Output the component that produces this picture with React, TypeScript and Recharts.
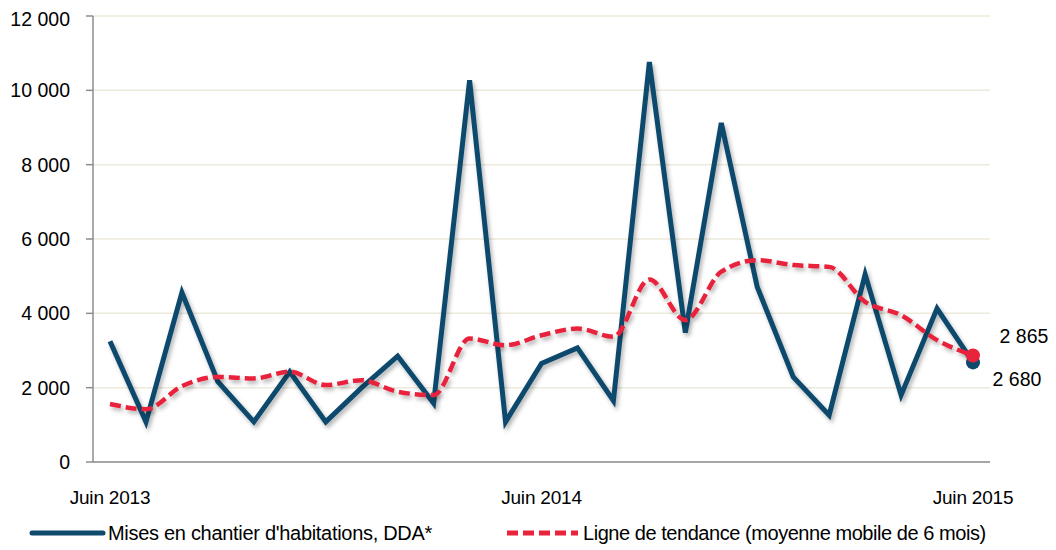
import React from "react";
import { LineChart, Line, XAxis, YAxis, CartesianGrid, Legend } from "recharts";

const months = ["Juin 2013","Juil. 2013","Août 2013","Sept. 2013","Oct. 2013","Nov. 2013","Déc. 2013","Janv. 2014","Févr. 2014","Mars 2014","Avr. 2014","Mai 2014","Juin 2014","Juil. 2014","Août 2014","Sept. 2014","Oct. 2014","Nov. 2014","Déc. 2014","Janv. 2015","Févr. 2015","Mars 2015","Avr. 2015","Mai 2015","Juin 2015"];
const mises = [3250,1080,4560,2160,1080,2430,1080,2000,2850,1580,10270,1080,2650,3070,1650,10760,3480,9120,4710,2290,1260,5050,1800,4130,2680];
const tendance = [1560,1420,2040,2290,2250,2430,2070,2200,1890,1800,3320,3140,3410,3590,3370,4910,3820,5120,5430,5300,5250,4310,3950,3280,2865];
const xTicks = ["Juin 2013","Juin 2014","Juin 2015"];
const yTicks = [0,2000,4000,6000,8000,10000,12000];

const data = months.map((m, i) => ({ month: m, mises: mises[i], tendance: tendance[i] }));

const BLUE = "#0E4A6C";
const RED = "#E8243C";
const FONT = "'Liberation Sans', Arial, sans-serif";

const fmt = (v: number) => String(v).replace(/\B(?=(\d{3})+(?!\d))/g, " ");

const lastIdx = months.length - 1;

const endDot = (color: string) => (props: any) => {
  const { cx, cy, index } = props;
  if (index !== lastIdx) return <g key={index} />;
  return <circle key={index} cx={cx} cy={cy} r={7} fill={color} />;
};

const endLabel = (dx: number, dy: number) => (props: any) => {
  const { x, y, index, value } = props;
  if (index !== lastIdx) return <g key={index} />;
  return (
    <text key={index} x={x + dx} y={y + dy} fill="#000" fontSize={19.5} fontFamily={FONT} textAnchor="middle" dominantBaseline="central">
      {fmt(value)}
    </text>
  );
};

const LegendContent = () => (
  <div style={{ position: "relative", height: 48, width: 1040, fontFamily: FONT, color: "#000" }}>
    <svg width={1040} height={48} style={{ position: "absolute", left: 0, top: 0, overflow: "visible" }}>
      <line x1={24} y1={31} x2={95} y2={31} stroke={BLUE} strokeWidth={5} strokeLinecap="round" />
      <line x1={499} y1={31} x2={570} y2={31} stroke={RED} strokeWidth={5} strokeDasharray="11 5" />
      <text x={100} y={31} dominantBaseline="central" fontSize={20} letterSpacing={-0.3} fontFamily={FONT}>Mises en chantier d'habitations, DDA*</text>
      <text x={575} y={31} dominantBaseline="central" fontSize={20} letterSpacing={-0.45} fontFamily={FONT}>Ligne de tendance (moyenne mobile de 6 mois)</text>
    </svg>
  </div>
);

export default function App() {
  return (
    <LineChart width={1040} height={542} data={data} margin={{ top: 8, right: 58, left: 0, bottom: 8 }}>
      <defs>
        <filter id="sh" x="-10%" y="-10%" width="120%" height="120%">
          <feDropShadow dx="2" dy="3" stdDeviation="2" floodColor="#000" floodOpacity="0.3" />
        </filter>
      </defs>
      <CartesianGrid vertical={false} stroke="#ECEADB" strokeWidth={1.5} />
      <XAxis
        dataKey="month"
        ticks={xTicks}
        interval={0}
        padding={{ left: 17, right: 17 }}
        height={40}
        tickSize={0}
        tickMargin={29}
        axisLine={{ stroke: "#8C8C8C", strokeWidth: 1.5 }}
        tick={{ fill: "#000", fontSize: 19, fontFamily: FONT, letterSpacing: -0.2 }}
      />
      <YAxis
        domain={[0, 12000]}
        ticks={yTicks}
        width={85}
        tickSize={7}
        tickMargin={16}
        tickFormatter={fmt}
        axisLine={{ stroke: "#8C8C8C", strokeWidth: 1.5 }}
        tickLine={{ stroke: "#8C8C8C", strokeWidth: 1.5 }}
        tick={{ fill: "#000", fontSize: 19.5, fontFamily: FONT }}
      />
      <Legend verticalAlign="bottom" height={40} wrapperStyle={{ left: 0, width: 1040 }} content={<LegendContent />} />
      <Line
        dataKey="mises"
        type="linear"
        stroke={BLUE}
        strokeWidth={5}
        strokeLinejoin="miter"
        filter="url(#sh)"
        dot={endDot(BLUE)}
        activeDot={false}
        label={endLabel(44, 17)}
        isAnimationActive={false}
      />
      <Line
        dataKey="tendance"
        type="monotone"
        stroke={RED}
        strokeWidth={4.5}
        strokeDasharray="11 5"
        filter="url(#sh)"
        dot={endDot(RED)}
        activeDot={false}
        label={endLabel(51, -20)}
        isAnimationActive={false}
      />
    </LineChart>
  );
}
